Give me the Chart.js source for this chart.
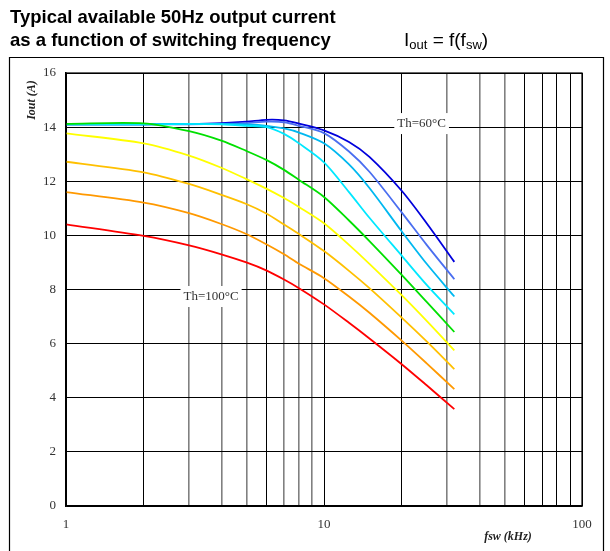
<!DOCTYPE html>
<html>
<head>
<meta charset="utf-8">
<script src="https://cdn.jsdelivr.net/npm/chart.js@4.4.1/dist/chart.umd.min.js"></script>
<style>
  html, body { margin: 0; padding: 0; background: #fff; }
  #wrap { position: relative; width: 610px; height: 551px; }
</style>
</head>
<body>
<div id="wrap"><canvas id="chart" width="610" height="551"></canvas></div>
<script>
// switching frequency (kHz)
const fsw = [1, 2, 3, 4, 5, 6, 7, 8, 10, 12.5, 15, 20, 25, 32];

// output current (A) per heatsink temperature
const th60  = [14.1, 14.1, 14.12, 14.15, 14.2, 14.27, 14.25, 14.13, 13.88, 13.45, 12.9, 11.65, 10.45, 9.02];
const th65  = [14.1, 14.1, 14.1, 14.12, 14.15, 14.2, 14.18, 14.05, 13.78, 13.1, 12.35, 10.85, 9.65, 8.38];
const th70  = [14.1, 14.1, 14.12, 14.12, 14.1, 14.05, 13.95, 13.8, 13.4, 12.62, 11.75, 10.15, 8.95, 7.74];
const th75  = [14.1, 14.1, 14.12, 14.1, 14.05, 14.0, 13.75, 13.4, 12.7, 11.6, 10.65, 9.25, 8.17, 7.08];
const th80  = [14.12, 14.14, 13.85, 13.5, 13.12, 12.78, 12.42, 12.05, 11.42, 10.55, 9.79, 8.54, 7.54, 6.43];
const th85  = [13.77, 13.4, 12.95, 12.5, 12.08, 11.72, 11.38, 11.05, 10.45, 9.65, 8.95, 7.79, 6.84, 5.75];
const th90  = [12.72, 12.33, 11.9, 11.5, 11.16, 10.8, 10.4, 10.05, 9.42, 8.69, 8.05, 6.96, 6.08, 5.06];
const th95  = [11.6, 11.21, 10.82, 10.42, 10.05, 9.66, 9.3, 8.95, 8.42, 7.74, 7.14, 6.11, 5.27, 4.32];
const th100 = [10.41, 9.98, 9.63, 9.3, 9.0, 8.7, 8.37, 8.05, 7.45, 6.77, 6.19, 5.24, 4.46, 3.58];

const seriesNames  = ['Th=60°C', 'Th=65°C', 'Th=70°C', 'Th=75°C', 'Th=80°C', 'Th=85°C', 'Th=90°C', 'Th=95°C', 'Th=100°C'];
const seriesValues = [th60, th65, th70, th75, th80, th85, th90, th95, th100];
const seriesColors = ['#0000dc', '#4a6ef0', '#00b8f0', '#00e8ff', '#00e000', '#ffff00', '#ffc000', '#ff9900', '#ff0000'];

const yTicks = [0, 2, 4, 6, 8, 10, 12, 14, 16];
const xGridValues = [1, 2, 3, 4, 5, 6, 7, 8, 9, 10, 20, 30, 40, 50, 60, 70, 80, 90, 100];
const xTickLabels = [1, 10, 100];
const xDarkLines = [1, 2, 6, 10, 20, 60, 70, 80, 90, 100];

// where the two curve labels sit (data coords)
const curveLabels = [
  { text: 'Th=60°C', x: 23.9, y: 14.15 },
  { text: 'Th=100°C', x: 3.65, y: 7.76 }
];

const serif = '"Liberation Serif", "Times New Roman", serif';
const sans = '"Liberation Sans", Arial, sans-serif';

// later series drawn on top (green over the blue bundle, like the original)
const datasets = seriesValues.map((vals, i) => ({
  label: seriesNames[i],
  data: fsw.map((f, j) => ({ x: f, y: vals[j] })),
  borderColor: seriesColors[i],
  borderWidth: 1.8,
  pointRadius: 0,
  fill: false,
  tension: 0.3,
  order: seriesValues.length - i
}));

const decorPlugin = {
  id: 'decor',
  afterDatasetsDraw(chart) {
    const ctx = chart.ctx;
    const xs = chart.scales.x, ys = chart.scales.y;
    ctx.save();
    ctx.font = '13px ' + serif;
    ctx.textAlign = 'center';
    ctx.textBaseline = 'middle';
    curveLabels.forEach(l => {
      const px = xs.getPixelForValue(l.x), py = ys.getPixelForValue(l.y);
      const w = ctx.measureText(l.text).width + 6;
      ctx.fillStyle = '#fff';
      ctx.fillRect(px - w / 2, py - 10, w, 21);
      ctx.fillStyle = '#333';
      ctx.fillText(l.text, px, py + 1);
    });
    ctx.restore();
  },
  afterDraw(chart) {
    const ctx = chart.ctx;
    const a = chart.chartArea;
    ctx.save();
    // plot box
    ctx.strokeStyle = '#000';
    ctx.lineWidth = 1.2;
    ctx.strokeRect(a.left, a.top, a.right - a.left, a.bottom - a.top);

    // outer frame
    ctx.beginPath();
    ctx.moveTo(9.5, 551);
    ctx.lineTo(9.5, 57.5);
    ctx.lineTo(603.5, 57.5);
    ctx.lineTo(603.5, 551);
    ctx.stroke();

    // title
    ctx.fillStyle = '#000';
    ctx.font = 'bold 18.5px ' + sans;
    ctx.textAlign = 'left';
    ctx.textBaseline = 'alphabetic';
    ctx.fillText('Typical available 50Hz output current', 10, 23);
    ctx.fillText('as a function of switching frequency', 10, 46);

    // Iout = f(fsw)
    let x = 404;
    const put = (t, size, dy) => {
      ctx.font = size + 'px ' + sans;
      ctx.fillText(t, x, 46 + dy);
      x += ctx.measureText(t).width;
    };
    put('I', 19, 0);
    put('out', 13, 3);
    put(' = f(f', 19, 0);
    put('sw', 13, 3);
    put(')', 19, 0);

    // axis titles
    ctx.fillStyle = '#222';
    ctx.font = 'italic bold 12px ' + serif;
    ctx.textAlign = 'center';
    ctx.textBaseline = 'middle';
    ctx.fillText('fsw (kHz)', 508, 537);
    ctx.translate(32, 100);
    ctx.rotate(-Math.PI / 2);
    ctx.fillText('Iout (A)', 0, 0);
    ctx.restore();
  }
};

new Chart(document.getElementById('chart'), {
  type: 'line',
  data: { datasets },
  plugins: [decorPlugin],
  options: {
    responsive: false,
    animation: false,
    devicePixelRatio: 1,
    layout: { padding: { left: 0, right: 28, top: 73, bottom: 0 } },
    plugins: { legend: { display: false }, tooltip: { enabled: false } },
    scales: {
      x: {
        type: 'logarithmic',
        min: 1,
        max: 100,
        afterBuildTicks: scale => { scale.ticks = xGridValues.map(v => ({ value: v })); },
        afterFit: scale => { scale.height = 45; },
        ticks: {
          autoSkip: false,
          maxRotation: 0,
          padding: 11,
          color: '#333',
          font: { family: serif, size: 13 },
          callback: v => xTickLabels.includes(v) ? String(v) : ''
        },
        grid: {
          drawTicks: false,
          color: c => xDarkLines.includes(c.tick.value) ? '#000' : '#808080',
          lineWidth: c => xDarkLines.includes(c.tick.value) ? 1 : 1.6
        },
        border: { display: true, color: '#000', width: 1.5 }
      },
      y: {
        min: 0,
        max: 16,
        afterBuildTicks: scale => { scale.ticks = yTicks.map(v => ({ value: v })); },
        afterFit: scale => { scale.width = 66; },
        ticks: {
          padding: 10,
          color: '#333',
          font: { family: serif, size: 13 }
        },
        grid: { drawTicks: false, color: '#000', lineWidth: 1 },
        border: { display: true, color: '#000', width: 1.5 }
      }
    }
  }
});
</script>
</body>
</html>
